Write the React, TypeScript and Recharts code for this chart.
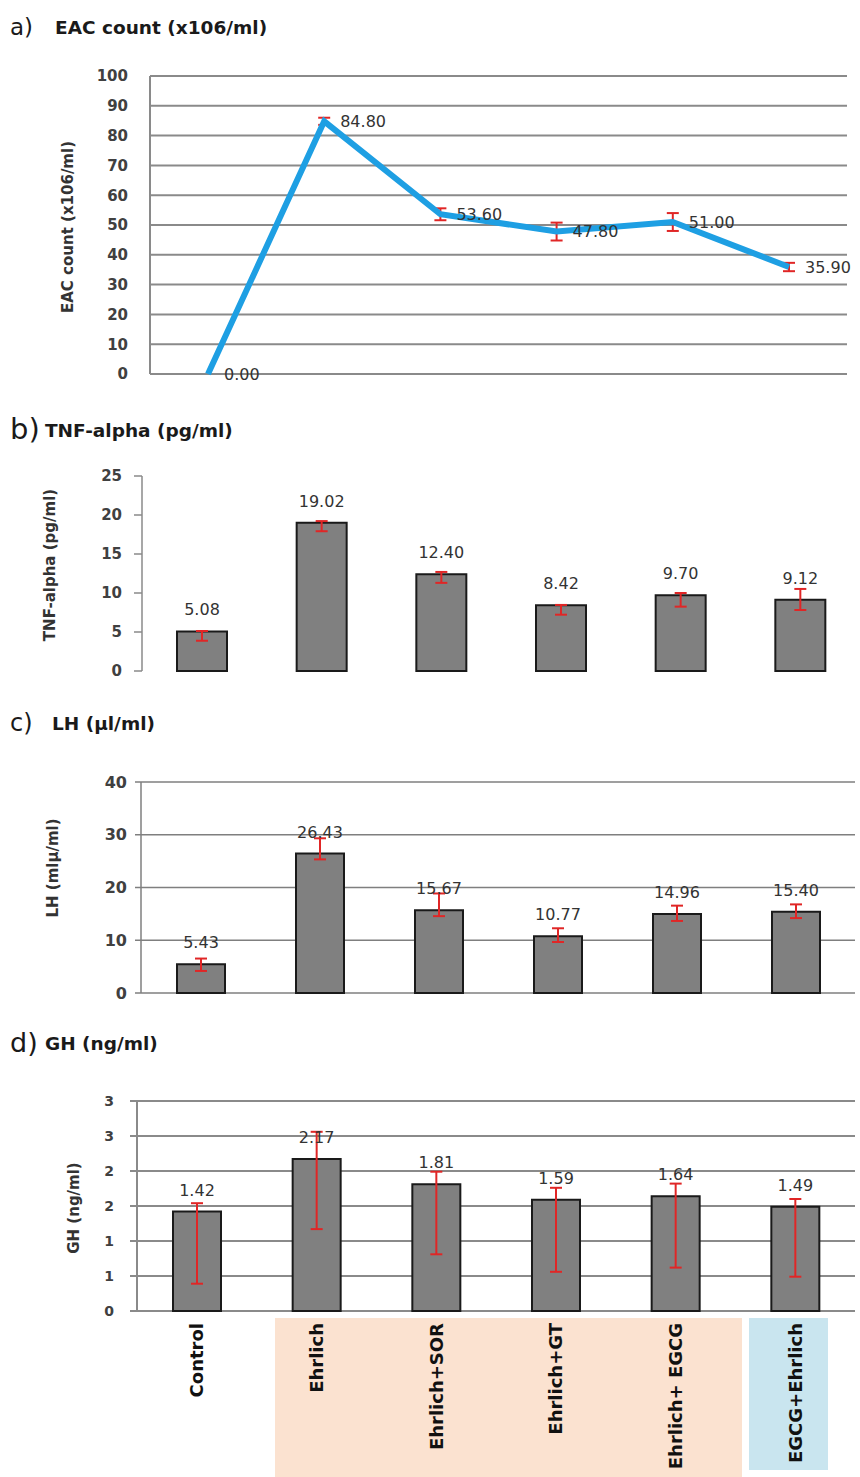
import React from 'react';
import { LineChart, Line, BarChart, Bar, XAxis, YAxis, CartesianGrid, ErrorBar, LabelList } from 'recharts';

const groups = ['Control', 'Ehrlich', 'Ehrlich+SOR', 'Ehrlich+GT', 'Ehrlich+ EGCG', 'EGCG+Ehrlich'];

// a) EAC count
const eacMean = [0, 84.8, 53.6, 47.8, 51.0, 35.9];
const eacErr = [null, 1.2, 2, 3, 3, 1.4];
const eacTicks = [0, 10, 20, 30, 40, 50, 60, 70, 80, 90, 100];

// b) TNF-alpha, errors as [below, above]
const tnfMean = [5.08, 19.02, 12.4, 8.42, 9.7, 9.12];
const tnfErr = [[1.2, 0.05], [1.1, 0.2], [1.1, 0.3], [1.2, 0.05], [1.45, 0.3], [1.3, 1.4]];
const tnfTicks = [0, 5, 10, 15, 20, 25];

// c) LH
const lhMean = [5.43, 26.43, 15.67, 10.77, 14.96, 15.4];
const lhErr = [[1.25, 1.1], [1.1, 2.9], [1.1, 3.2], [1.1, 1.5], [1.3, 1.6], [1.2, 1.4]];
const lhTicks = [0, 10, 20, 30, 40];

// d) GH
const ghMean = [1.42, 2.17, 1.81, 1.59, 1.64, 1.49];
const ghErr = [[1.03, 0.12], [1.0, 0.39], [1.0, 0.18], [1.03, 0.17], [1.02, 0.18], [1.0, 0.11]];
const ghTicks = [0, 0.5, 1, 1.5, 2, 2.5, 3];

const toRows = (mean: number[], err: any[]) => groups.map((g, i) => ({ group: g, mean: mean[i], err: err[i] }));

const FONT = 'DejaVu Sans, sans-serif';
const tickStyle = { fill: '#404040', fontSize: 15, fontWeight: 700, fontFamily: FONT };
const labelStyle = { fill: '#333', fontSize: 16, fontFamily: FONT };
const fmt = (v: any) => Number(v).toFixed(2);

const Title = ({ letter, text, top, size, textLeft, textTop }: { letter: string; text: string; top: number; size: number; textLeft: number; textTop: number }) => (
  <>
    <div style={{ position: 'absolute', left: 10, top, fontFamily: FONT, fontSize: size, lineHeight: 1, color: '#1a1a1a' }}>{letter}</div>
    <div style={{ position: 'absolute', left: textLeft, top: textTop, fontFamily: FONT, fontSize: 18.5, lineHeight: 1, fontWeight: 700, color: '#1a1a1a', whiteSpace: 'nowrap' }}>
      {text}
    </div>
  </>
);

const YTitle = ({ text, cx, cy }: { text: string; cx: number; cy: number }) => (
  <div
    style={{
      position: 'absolute', left: cx, top: cy, transform: 'translate(-50%, -50%) rotate(-90deg)',
      fontFamily: FONT, fontSize: 15, fontWeight: 700, color: '#333', whiteSpace: 'nowrap',
    }}
  >
    {text}
  </div>
);

const CatTick = (props: any) => {
  const { x, y, payload } = props;
  return (
    <text
      x={x}
      y={y}
      transform={`rotate(-90, ${x}, ${y})`}
      textAnchor="end"
      dy="0.36em"
      fill="#111"
      fontSize={18}
      fontWeight={700}
      fontFamily={FONT}
    >
      {payload.value}
    </text>
  );
};

const barProps = { fill: '#808080', stroke: '#1a1a1a', strokeWidth: 2, isAnimationActive: false };
const errProps = { stroke: '#E02626', strokeWidth: 2, width: 6, direction: 'y' as const };

export default function App() {
  return (
    <div style={{ position: 'absolute', left: 0, top: 0, width: 860, height: 1477, background: '#fff', overflow: 'hidden' }}>
      <Title letter="a)" text="EAC count (x106/ml)" top={16} size={23} textLeft={55} textTop={19} />
      <Title letter="b)" text="TNF-alpha (pg/ml)" top={415} size={29} textLeft={45} textTop={422} />
      <Title letter="c)" text="LH (µl/ml)" top={711} size={24} textLeft={52} textTop={715} />
      <Title letter="d)" text="GH (ng/ml)" top={1029} size={27} textLeft={45} textTop={1035} />

      <YTitle text="EAC count (x106/ml)" cx={68} cy={227} />
      <YTitle text="TNF-alpha (pg/ml)" cx={50} cy={565} />
      <YTitle text="LH (mlµ/ml)" cx={53} cy={868} />
      <YTitle text="GH (ng/ml)" cx={74} cy={1208} />

      <div style={{ position: 'absolute', left: 275, top: 1318, width: 467, height: 159, background: '#FBE2D0' }} />
      <div style={{ position: 'absolute', left: 749, top: 1318, width: 79, height: 152, background: '#C9E5EF' }} />

      <div style={{ position: 'absolute', left: 0, top: 0 }}>
        <LineChart width={860} height={390} data={toRows(eacMean, eacErr)} margin={{ top: 76, right: 13, bottom: 16, left: 90 }}>
          <CartesianGrid vertical={false} stroke="#8a8a8a" strokeWidth={2} />
          <XAxis dataKey="group" hide padding={{ left: 58, right: 58 }} />
          <YAxis
            width={60}
            domain={[0, 100]}
            ticks={eacTicks}
            interval={0}
            tickLine={false}
            tickMargin={16}
            axisLine={{ stroke: '#8a8a8a', strokeWidth: 2 }}
            tick={tickStyle}
          />
          <Line dataKey="mean" stroke="#1E9FE3" strokeWidth={6} dot={false} isAnimationActive={false}>
            <ErrorBar dataKey="err" {...errProps} />
            <LabelList dataKey="mean" position="right" offset={16} formatter={fmt} {...labelStyle} />
          </Line>
        </LineChart>
      </div>

      <div style={{ position: 'absolute', left: 0, top: 440 }}>
        <BarChart width={860} height={250} data={toRows(tnfMean, tnfErr)} margin={{ top: 36, right: 0, bottom: 19, left: 82 }}>
          <XAxis dataKey="group" hide />
          <YAxis
            width={60}
            domain={[0, 25]}
            ticks={tnfTicks}
            interval={0}
            tickSize={8}
            tickMargin={12}
            axisLine={{ stroke: '#8a8a8a', strokeWidth: 1.5 }}
            tickLine={{ stroke: '#8a8a8a', strokeWidth: 1.5 }}
            tick={tickStyle}
          />
          <Bar dataKey="mean" barSize={50} {...barProps}>
            <ErrorBar dataKey="err" {...errProps} />
            <LabelList dataKey="mean" position="top" offset={16} formatter={fmt} {...labelStyle} />
          </Bar>
        </BarChart>
      </div>

      <div style={{ position: 'absolute', left: 0, top: 740 }}>
        <BarChart width={860} height={270} data={toRows(lhMean, lhErr)} margin={{ top: 42, right: 5, bottom: 17, left: 81 }}>
          <CartesianGrid vertical={false} stroke="#7f7f7f" strokeWidth={1.5} />
          <XAxis dataKey="group" hide />
          <YAxis
            width={60}
            domain={[0, 40]}
            ticks={lhTicks}
            interval={0}
            tickSize={6}
            tickMargin={8}
            axisLine={{ stroke: '#7f7f7f', strokeWidth: 1.5 }}
            tickLine={{ stroke: '#7f7f7f', strokeWidth: 1.5 }}
            tick={{ ...tickStyle, fontSize: 16 }}
          />
          <Bar dataKey="mean" barSize={48} {...barProps}>
            <ErrorBar dataKey="err" {...errProps} />
            <LabelList dataKey="mean" position="top" offset={16} formatter={fmt} {...labelStyle} />
          </Bar>
        </BarChart>
      </div>

      <div style={{ position: 'absolute', left: 0, top: 1040 }}>
        <BarChart width={860} height={437} data={toRows(ghMean, ghErr)} margin={{ top: 61, right: 5, bottom: 0, left: 77 }}>
          <CartesianGrid vertical={false} stroke="#8a8a8a" strokeWidth={2} />
          <XAxis dataKey="group" height={166} axisLine={false} tickLine={false} tickSize={0} tickMargin={12} interval={0} tick={<CatTick />} />
          <YAxis
            width={60}
            domain={[0, 3]}
            ticks={ghTicks}
            interval={0}
            tickSize={7}
            tickMargin={16}
            tickFormatter={(v: number) => String(Math.round(v))}
            axisLine={{ stroke: '#8a8a8a', strokeWidth: 2 }}
            tickLine={{ stroke: '#8a8a8a', strokeWidth: 2 }}
            tick={{ ...tickStyle, fontSize: 14 }}
          />
          <Bar dataKey="mean" barSize={48} {...barProps}>
            <ErrorBar dataKey="err" {...errProps} />
            <LabelList dataKey="mean" position="top" offset={16} formatter={fmt} {...labelStyle} />
          </Bar>
        </BarChart>
      </div>
    </div>
  );
}
